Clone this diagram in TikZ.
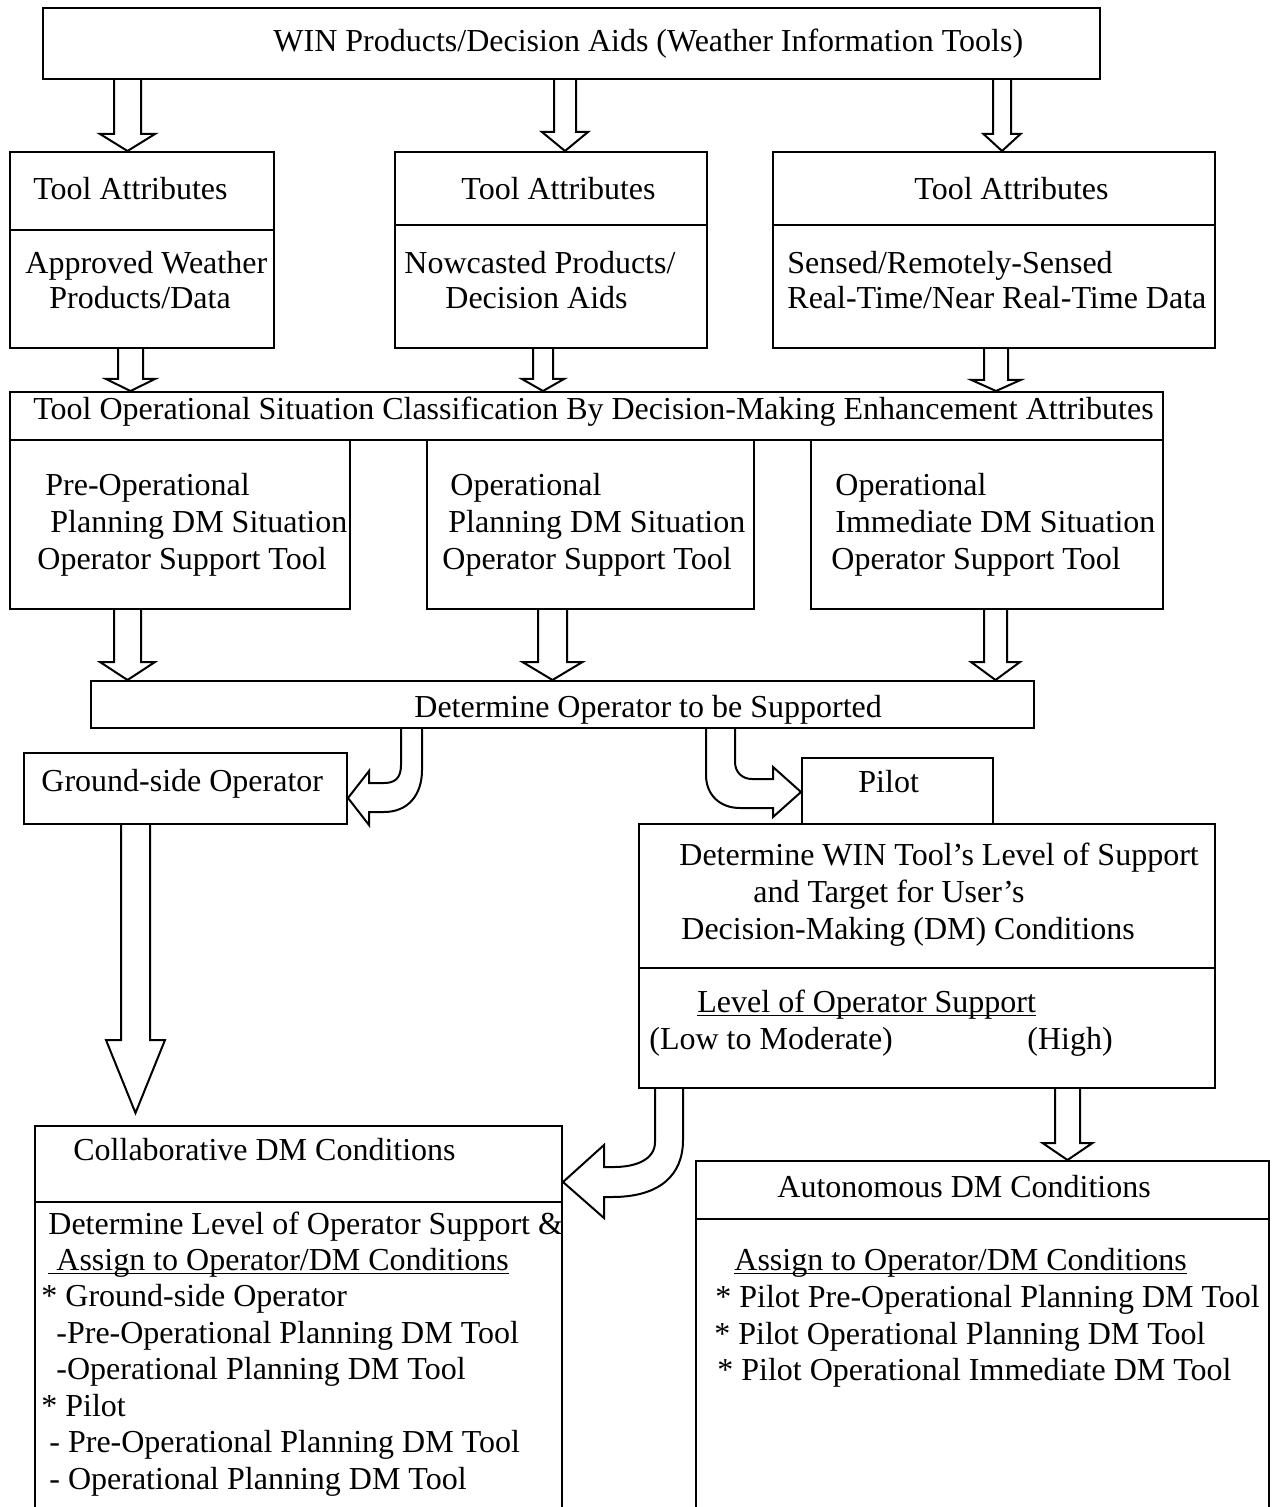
\documentclass[tikz,border=0pt]{standalone}
\usepackage{fontspec}
\setmainfont{Liberation Serif}
\usetikzlibrary{calc,fit}

% hollow block arrow pointing down: x, from, to, half shaft, half head, head length
\newcommand{\fatdown}[6]{%
  \draw[fat] let \p1=(#1,0 |- #2), \p2=(#1,0 |- #3) in
    (\x1-#4*0.5pt,\y1) -- (\x1-#4*0.5pt,\y2+#6*0.5pt) -- (\x1-#5*0.5pt,\y2+#6*0.5pt)
    -- (\p2) -- (\x1+#5*0.5pt,\y2+#6*0.5pt) -- (\x1+#4*0.5pt,\y2+#6*0.5pt) -- (\x1+#4*0.5pt,\y1);}

\begin{document}
\begin{tikzpicture}[x=0.5pt,y=-0.5pt,
    box/.style={draw,line width=1pt,inner sep=0pt},
    txt/.style={font=\fontsize{16}{18.5}\selectfont,inner sep=0pt,anchor=base west,yshift=-1pt},
    fat/.style={draw,line width=1pt,line join=miter},
    uline/.style={line width=0.8pt}]

    \useasboundingbox (0,0) rectangle (1272,1507);

    % boxes
    \node[box,fit={(43,8) (1100,79)}] (win) {};
    \node[box,fit={(10,152) (274,230)}] (ta1) {};
    \node[box,fit={(10,230) (274,348)}] (ap1) {};
    \node[box,fit={(395,152) (707,225)}] (ta2) {};
    \node[box,fit={(395,225) (707,348)}] (ap2) {};
    \node[box,fit={(773,152) (1215,225)}] (ta3) {};
    \node[box,fit={(773,225) (1215,348)}] (ap3) {};
    \node[box,fit={(10,392) (1163,440)}] (cls) {};
    \node[box,fit={(10,440) (350,609)}] (pre) {};
    \node[box,fit={(427,440) (754,609)}] (opl) {};
    \node[box,fit={(811,440) (1163,609)}] (imm) {};
    \node[box,fit={(91,681) (1034,728)}] (det) {};
    \node[box,fit={(24,753) (347,824)}] (gnd) {};
    \node[box,fit={(802,758) (993,824)}] (pilot) {};
    \node[box,fit={(639,824) (1215,968)}] (tgt) {};
    \node[box,fit={(639,968) (1215,1088)}] (lvl) {};
    \node[box,fit={(35,1126) (562,1202)}] (colh) {};
    \node[box,fit={(35,1202) (562,1530)}] (colb) {};
    \node[box,fit={(696,1161) (1269,1219)}] (auth) {};
    \node[box,fit={(696,1219) (1269,1530)}] (autb) {};
    \coordinate (gtip) at (136,1113);

    % texts
    \node[txt] (wintxt) at (273,50) {WIN Products/Decision Aids (Weather Information Tools)};
    \node[txt] (ta1txt) at (33,198) {Tool Attributes};
    \node[txt] (ta2txt) at (461,198) {Tool Attributes};
    \node[txt] (ta3txt) at (914,198) {Tool Attributes};
    \node[txt] (ap1a) at (25,272) {Approved Weather};
    \node[txt] (ap1b) at (49,307) {Products/Data};
    \node[txt] (ap2a) at (404,272) {Nowcasted Products/};
    \node[txt] (ap2b) at (445,307) {Decision Aids};
    \node[txt] (ap3a) at (787,272) {Sensed/Remotely-Sensed};
    \node[txt] (ap3b) at (787,307) {Real-Time/Near Real-Time Data};
    \node[txt] (clstxt) at (33,418) {Tool Operational Situation Classification By Decision-Making Enhancement Attributes};
    \node[txt] (prea) at (45,493) {Pre-Operational};
    \node[txt] (preb) at (50,530) {Planning DM Situation};
    \node[txt] (prec) at (37,567) {Operator Support Tool};
    \node[txt] (opla) at (450,493) {Operational};
    \node[txt] (oplb) at (448,530) {Planning DM Situation};
    \node[txt] (oplc) at (442,567) {Operator Support Tool};
    \node[txt] (imma) at (835,493) {Operational};
    \node[txt] (immb) at (835,530) {Immediate DM Situation};
    \node[txt] (immc) at (831,567) {Operator Support Tool};
    \node[txt] (dettxt) at (414,715) {Determine Operator to be Supported};
    \node[txt] (gndtxt) at (41,789) {Ground-side Operator};
    \node[txt] (pilottxt) at (858,790) {Pilot};
    \node[txt] (tgta) at (679,863) {Determine WIN Tool's Level of Support};
    \node[txt] (tgtb) at (753,900) {and Target for User's};
    \node[txt] (tgtc) at (681,937) {Decision-Making (DM) Conditions};
    \node[txt] (lvla) at (697,1010) {Level of Operator Support};
    \node[txt] (lvlb) at (649,1047) {(Low to Moderate)};
    \node[txt] (lvlc) at (1027,1047) {(High)};
    \node[txt] (colhtxt) at (73,1158) {Collaborative DM Conditions};
    \node[txt] (cola) at (48,1232) {Determine Level of Operator Support \&};
    \node[txt] (colb0) at (48,1268) {\ Assign to Operator/DM Conditions};
    \foreach \t [count=\i from 1] in {* Ground-side Operator,
        \hspace*{7.5pt}-Pre-Operational Planning DM Tool,
        \hspace*{7.5pt}-Operational Planning DM Tool,
        * Pilot,
        \hspace*{4pt}- Pre-Operational Planning DM Tool,
        \hspace*{4pt}- Operational Planning DM Tool}
      \node[txt] (colb\i) at (41,1268+36.5*\i) {\t};
    \node[txt] (authtxt) at (777,1195) {Autonomous DM Conditions};
    \node[txt] (autb0) at (734,1268) {Assign to Operator/DM Conditions};
    \node[txt] (autb1) at (715,1305) {* Pilot Pre-Operational Planning DM Tool};
    \node[txt] (autb2) at (714,1342) {* Pilot Operational Planning DM Tool};
    \node[txt] (autb3) at (717,1378) {* Pilot Operational Immediate DM Tool};

    % underlines
    \draw[uline] ([yshift=-1.75pt]lvla.base west) -- ([yshift=-1.75pt]lvla.base east);
    \draw[uline] ([yshift=-1.75pt]colb0.base west) -- ([yshift=-1.75pt]colb0.base east);
    \draw[uline] ([yshift=-1.75pt]autb0.base west) -- ([yshift=-1.75pt]autb0.base east);

    % straight block arrows
    \fatdown{127.5}{win.south}{ta1.north}{13.5}{27.5}{17}
    \fatdown{565}{win.south}{ta2.north}{11}{23}{19}
    \fatdown{1002}{win.south}{ta3.north}{9}{18.5}{17}
    \fatdown{130.5}{ap1.south}{cls.north}{12.5}{24.5}{12}
    \fatdown{543}{ap2.south}{cls.north}{10}{21}{12}
    \fatdown{996}{ap3.south}{cls.north}{12}{24.5}{11}
    \fatdown{127.5}{pre.south}{det.north}{13.5}{27.5}{18}
    \fatdown{552.5}{opl.south}{det.north}{14.5}{30}{18}
    \fatdown{995.5}{imm.south}{det.north}{11.5}{24.5}{18}
    \fatdown{135.5}{gnd.south}{gtip}{14.5}{29.5}{73}
    \fatdown{1067.5}{lvl.south}{auth.north}{12.5}{25}{17}

    % bent block arrows
    \draw[fat] (401,0 |- det.south) -- (401,765) .. controls (401,779) and (394,783) .. (384,783)
        -- (369,783) -- (369,771) -- (gnd.east |- 0,798) -- (369,825) -- (369,812) -- (384,812)
        .. controls (408,812) and (422,795) .. (422,770) -- (422,0 |- det.south);
    \draw[fat] (706,0 |- det.south) -- (706,775) .. controls (706,795) and (720,808) .. (740,808)
        -- (773,808) -- (773,817) -- (pilot.west |- 0,792) -- (773,767) -- (773,779) -- (752,779)
        .. controls (742,779) and (735,772) .. (735,762) -- (735,0 |- det.south);
    \draw[fat] (655,0 |- lvl.south) -- (655,1142) .. controls (655,1160) and (635,1167) .. (614,1167)
        -- (604,1167) -- (604,1145) -- (colh.east |- 0,1182) -- (604,1218) -- (604,1197) -- (612,1197)
        .. controls (660,1197) and (683,1175) .. (683,1140) -- (683,0 |- lvl.south);

\end{tikzpicture}
\end{document}
